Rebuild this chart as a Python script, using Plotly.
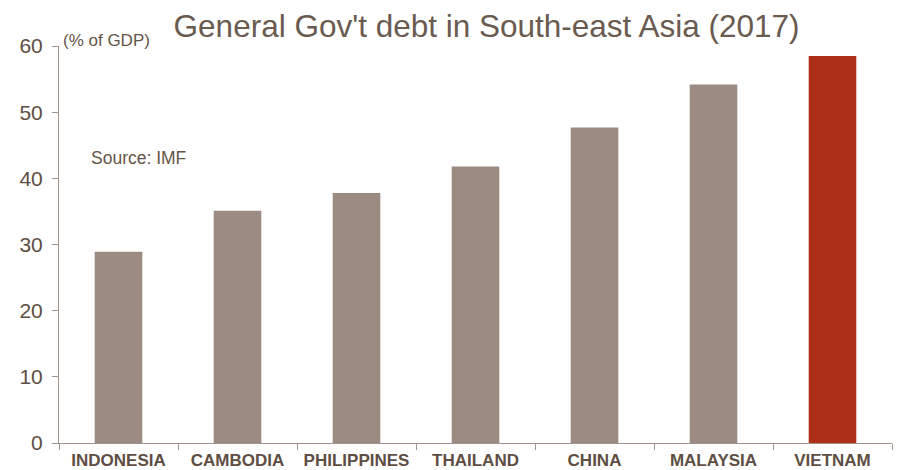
import plotly.graph_objects as go

# General government gross debt, 2017 (% of GDP)
countries = ["INDONESIA", "CAMBODIA", "PHILIPPINES", "THAILAND", "CHINA", "MALAYSIA", "VIETNAM"]
debt_pct_gdp = [28.9, 35.1, 37.8, 41.8, 47.7, 54.2, 58.5]
y_ticks = [0, 10, 20, 30, 40, 50, 60]

BAR_GREY = "#9C8B82"
HIGHLIGHT = "#AE2F17"
TEXT = "#655549"
AXIS = "#A0948C"

colors = [HIGHLIGHT if c == "VIETNAM" else BAR_GREY for c in countries]

fig = go.Figure(
    go.Bar(
        x=countries,
        y=debt_pct_gdp,
        marker=dict(color=colors, line=dict(width=0)),
        width=0.4,
    )
)

fig.update_layout(
    width=901,
    height=470,
    margin=dict(l=59, r=9, t=46, b=27),
    plot_bgcolor="white",
    paper_bgcolor="white",
    showlegend=False,
    font=dict(family="Liberation Sans, Arial, sans-serif", color=TEXT),
    title=dict(
        text="General Gov't debt in South-east Asia (2017)",
        x=0.54,
        xanchor="center",
        y=0.945,
        yanchor="middle",
        font=dict(size=31.5, color="#6A5A50"),
    ),
    xaxis=dict(
        type="category",
        automargin=False,
        showline=True,
        linecolor=AXIS,
        linewidth=1,
        ticks="outside",
        tickson="boundaries",
        ticklen=6,
        tickcolor=AXIS,
        tickangle=0,
        ticklabelstandoff=2,
        tickfont=dict(size=17, color="#5E4E44", family="Liberation Sans, Arial, sans-serif", weight="bold"),
        showgrid=False,
    ),
    yaxis=dict(
        range=[0, 60],
        automargin=False,
        tickvals=y_ticks,
        showline=True,
        linecolor=AXIS,
        linewidth=1,
        ticks="outside",
        ticklen=6,
        tickcolor=AXIS,
        ticklabelstandoff=5,
        tickfont=dict(size=21, color="#5E4E44"),
        showgrid=False,
        zeroline=False,
    ),
    annotations=[
        dict(
            text="(% of GDP)",
            xref="paper", yref="paper",
            x=0.003, y=1.014,
            xanchor="left", yanchor="middle",
            showarrow=False,
            font=dict(size=17, color=TEXT),
        ),
        dict(
            text="Source: IMF",
            xref="paper", yref="paper",
            x=0.036, y=0.719,
            xanchor="left", yanchor="middle",
            showarrow=False,
            font=dict(size=17.5, color=TEXT),
        ),
    ],
)

fig.write_html("out.html")
